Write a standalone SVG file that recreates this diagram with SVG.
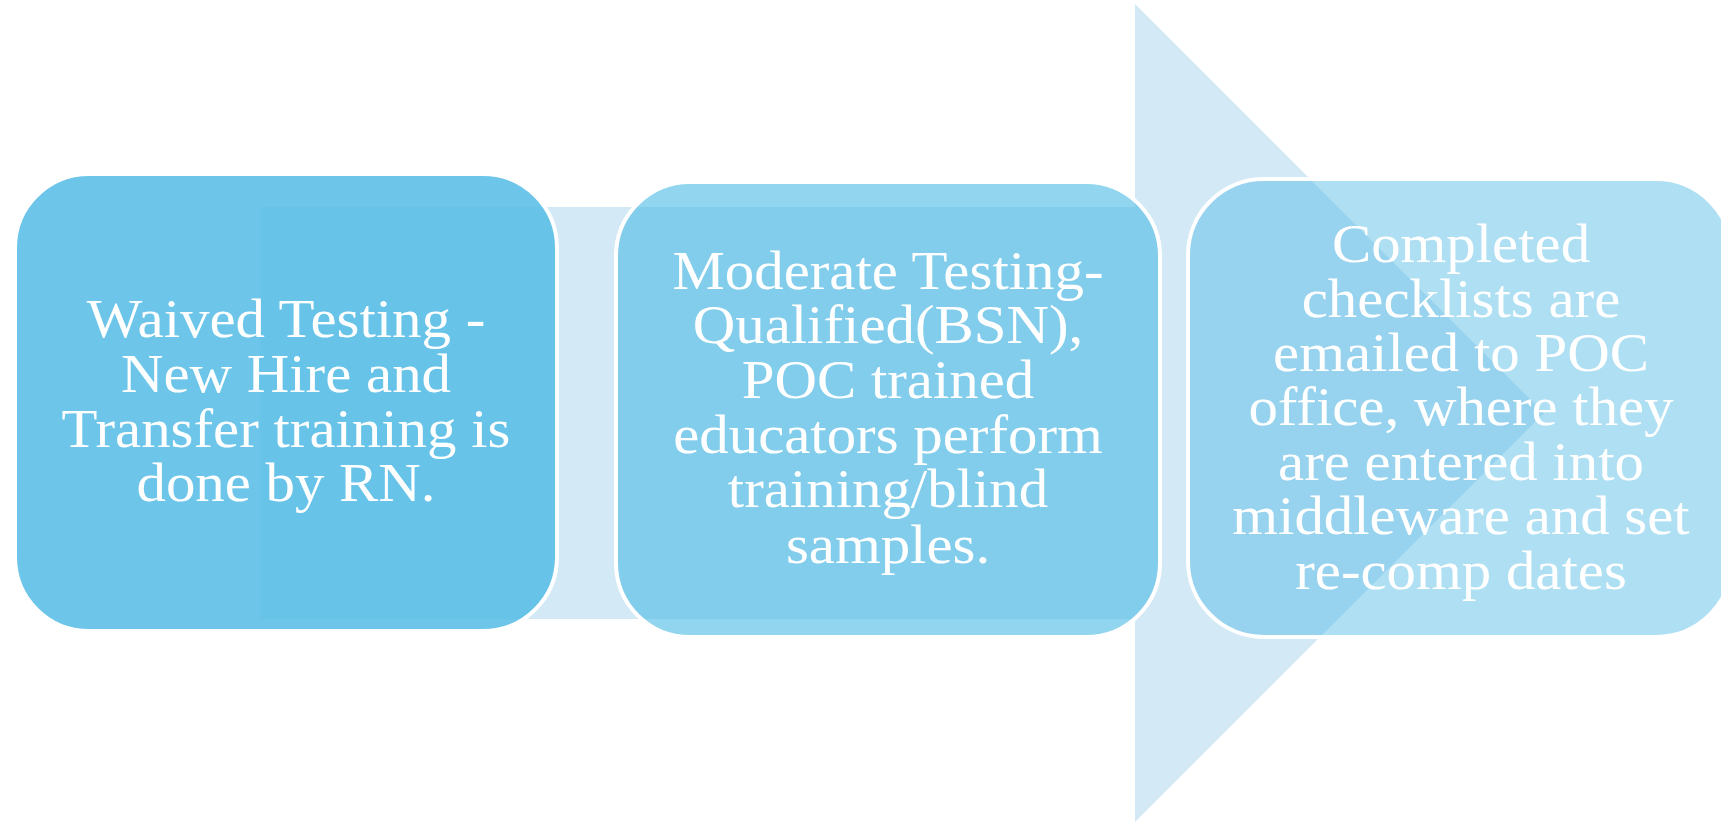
<svg xmlns="http://www.w3.org/2000/svg" width="1721" height="824" viewBox="0 0 1721 824">
  <style>
    .box { fill: #53BCE5; stroke: #FFFFFF; stroke-width: 4; }
    .lbl { fill: #FFFFFF; font-family: "Liberation Serif", "Times New Roman", serif; font-size: 55px; text-anchor: middle; }
  </style>
  <rect width="1721" height="824" fill="#FFFFFF"/>
  <g id="connectors">
    <polygon points="260,207 1135,207 1135,4 1544,413 1135,822 1135,619 260,619" fill="#D3E9F5"/>
  </g>
  <g id="node1">
    <rect class="box" x="15" y="174" width="542" height="457" rx="74" ry="74" fill-opacity="0.85"/>
    <g transform="translate(286 0) scale(1.07 1) translate(-286 0)">
      <text class="lbl" x="286" y="337">Waived Testing -</text>
      <text class="lbl" x="286" y="392">New Hire and</text>
      <text class="lbl" x="286" y="447">Transfer training is</text>
      <text class="lbl" x="286" y="501">done by RN.</text>
    </g>
  </g>
  <g id="node2">
    <rect class="box" x="616" y="182" width="544" height="455" rx="74" ry="74" fill-opacity="0.63"/>
    <g transform="translate(888 0) scale(1.07 1) translate(-888 0)">
      <text class="lbl" x="888" y="289">Moderate Testing-</text>
      <text class="lbl" x="888" y="343">Qualified(BSN),</text>
      <text class="lbl" x="888" y="398">POC trained</text>
      <text class="lbl" x="888" y="453">educators perform</text>
      <text class="lbl" x="888" y="507">training/blind</text>
      <text class="lbl" x="888" y="563">samples.</text>
    </g>
  </g>
  <g id="node3">
    <rect class="box" x="1188" y="179" width="544" height="458" rx="76" ry="76" fill-opacity="0.47"/>
    <g transform="translate(1461 0) scale(1.07 1) translate(-1461 0)">
      <text class="lbl" x="1461" y="262">Completed</text>
      <text class="lbl" x="1461" y="317">checklists are</text>
      <text class="lbl" x="1461" y="371">emailed to POC</text>
      <text class="lbl" x="1461" y="425">office, where they</text>
      <text class="lbl" x="1461" y="480">are entered into</text>
      <text class="lbl" x="1461" y="534">middleware and set</text>
      <text class="lbl" x="1461" y="589">re-comp dates</text>
    </g>
  </g>
</svg>
